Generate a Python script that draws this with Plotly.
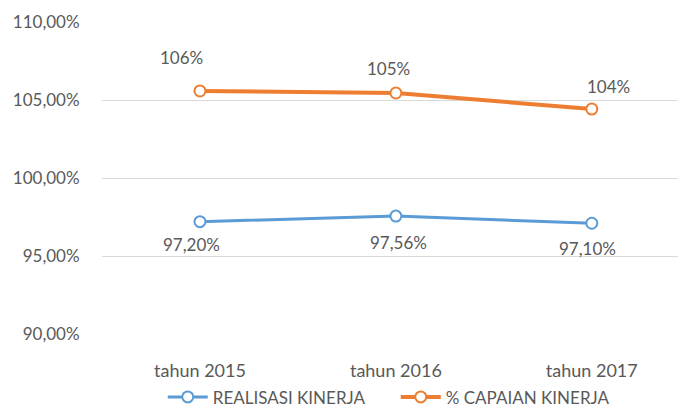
import plotly.graph_objects as go

categories = ["tahun 2015", "tahun 2016", "tahun 2017"]
realisasi = [97.20, 97.56, 97.10]
capaian = [105.58, 105.45, 104.42]
y_ticks = [90, 95, 100, 105, 110]
y_ticktext = [f"{v:.2f}%".replace(".", ",") for v in y_ticks]

FONT = "Lato"
TXT = "#595959"
BLUE = "#5B9BD5"
ORANGE = "#ED7D31"

# label offsets (pixels) - styling only
cap_dx = [-18, -7, 17]
cap_dy = [33, 24, 23]
real_dx = [-8, 3, -4]
real_dy = [-23, -26, -25]

fig = go.Figure()
fig.add_trace(go.Scatter(
    x=categories, y=realisasi, name="REALISASI KINERJA",
    mode="lines+markers",
    line=dict(color=BLUE, width=3),
    marker=dict(symbol="circle", size=11, color="white", line=dict(color=BLUE, width=2)),
))
fig.add_trace(go.Scatter(
    x=categories, y=capaian, name="% CAPAIAN KINERJA",
    mode="lines+markers",
    line=dict(color=ORANGE, width=4),
    marker=dict(symbol="circle", size=11, color="white", line=dict(color=ORANGE, width=2)),
))

anns = []
for i, c in enumerate(categories):
    anns.append(dict(x=c, y=capaian[i], text=f"{capaian[i]:.0f}%", showarrow=False,
                     xshift=cap_dx[i], yshift=cap_dy[i],
                     font=dict(family=FONT, size=17, color=TXT)))
    anns.append(dict(x=c, y=realisasi[i], text=f"{realisasi[i]:.2f}%".replace(".", ","),
                     showarrow=False, xshift=real_dx[i], yshift=real_dy[i],
                     font=dict(family=FONT, size=17, color=TXT)))

fig.update_layout(
    width=678, height=407,
    margin=dict(l=102, r=0, t=22, b=73, autoexpand=False),
    paper_bgcolor="white", plot_bgcolor="white",
    separators=",.",
    font=dict(family=FONT, size=17, color=TXT),
    showlegend=True,
    legend=dict(orientation="h", x=0.510, xanchor="center", y=-0.203, yanchor="middle",
                font=dict(family=FONT, size=17, color=TXT), itemwidth=40,
                entrywidth=178, entrywidthmode="pixels"),
    annotations=anns,
)
fig.update_xaxes(
    type="category", range=[-0.5, 2.44], automargin=False,
    showgrid=False, zeroline=False, showline=False,
    ticks="outside", ticklen=20, tickcolor="rgba(0,0,0,0)",
    tickfont=dict(family=FONT, size=18, color=TXT),
)
fig.update_yaxes(
    range=[90, 110], tickmode="array", tickvals=y_ticks, ticktext=y_ticktext,
    automargin=False,
    showgrid=True, gridcolor="#D9D9D9", gridwidth=1,
    zeroline=False, showline=False,
    ticks="outside", ticklen=18, tickcolor="rgba(0,0,0,0)",
    tickfont=dict(family=FONT, size=17, color=TXT),
)

fig.write_html("out.html", config={"displayModeBar": False},
               post_script="document.body.style.margin='0';document.body.style.overflow='hidden';")
